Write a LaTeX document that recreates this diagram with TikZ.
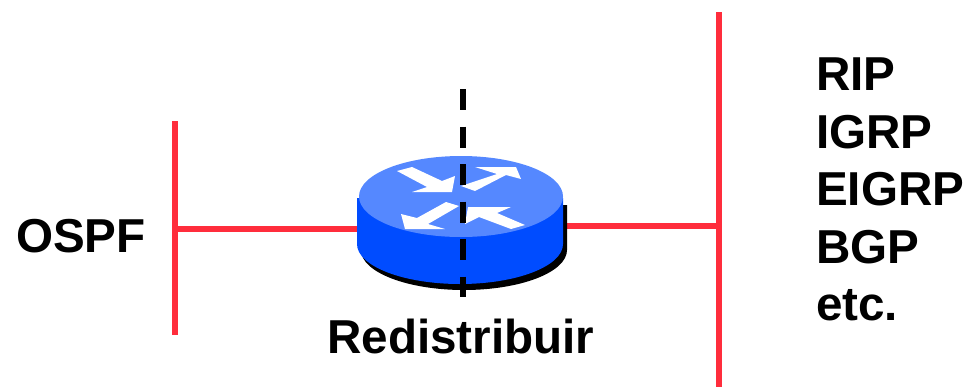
\documentclass[tikz,border=0pt]{standalone}
\usepackage{fontspec}
\setmainfont{Liberation Sans}
\definecolor{netred}{RGB}{255,45,60}
\definecolor{rtop}{RGB}{85,136,255}
\definecolor{rside}{RGB}{0,76,255}
\tikzset{
  x=1pt,y=-1pt,
  lbl/.style={font=\fontsize{47.6}{47.6}\selectfont\bfseries,anchor=base west,inner sep=0pt,text=black},
  net/.style={draw=netred,line width=5.5pt},
  arw/.style={fill=white,draw=none}
}
\begin{document}
\begin{tikzpicture}
\useasboundingbox (0,0) rectangle (965,388);
\coordinate (lt) at (175,121);
\coordinate (lb) at (175,335);
\coordinate (lm) at (175,229);
\coordinate (rl) at (357,229);
\coordinate (rr) at (563,226);
\coordinate (rm) at (719,226);
\coordinate (rt) at (719,12);
\coordinate (rb) at (719,387);
\coordinate (dt) at (463,89);
\coordinate (db) at (463,297);
\draw[net] (lt) -- (lb);
\draw[net] (rt) -- (rb);
\draw[net] (lm) -- (rl);
\draw[net] (rr) -- (rm);
% shadow
\fill[black] (361,205) -- (567,205) -- (567,250) arc[start angle=0,end angle=-180,x radius=103,y radius=-40] -- cycle;
% body
\fill[rside] (357,198) -- (563,198) -- (563,244) arc[start angle=0,end angle=-180,x radius=103,y radius=-40] -- cycle;
\fill[rtop] (461,196.5) ellipse[x radius=102,y radius=40.5];
% arrows
\fill[arw] (397,171) -- (412,167) -- (442,181) -- (455,176) -- (452,192) -- (412,192) -- (427,187) -- cycle;
\fill[arw] (461,186) -- (497,174) -- (475,167) -- (516,167) -- (521,179) -- (506,175) -- (475,191) -- cycle;
\fill[arw] (459,206) -- (428,224) -- (445,229) -- (405,229) -- (401,214) -- (417,218) -- (446,202) -- cycle;
\fill[arw] (465,224) -- (468,207) -- (511,207) -- (497,213) -- (525,225) -- (511,229) -- (479,217) -- cycle;
\draw[black,line width=5.5pt,dash pattern=on 21pt off 16.5pt] (dt) -- (db);
% text
\node[lbl] (ospf) at (16,252) {OSPF};
\node[lbl] (redis) at (327,353) {Redistribuir};
\node[lbl] (rip) at (816,90) {RIP};
\node[lbl] (igrp) at (816,148) {IGRP};
\node[lbl] (eigrp) at (816,205) {EIGRP};
\node[lbl] (bgp) at (816,263) {BGP};
\node[lbl] (etc) at (816,320) {etc.};
\end{tikzpicture}
\end{document}
